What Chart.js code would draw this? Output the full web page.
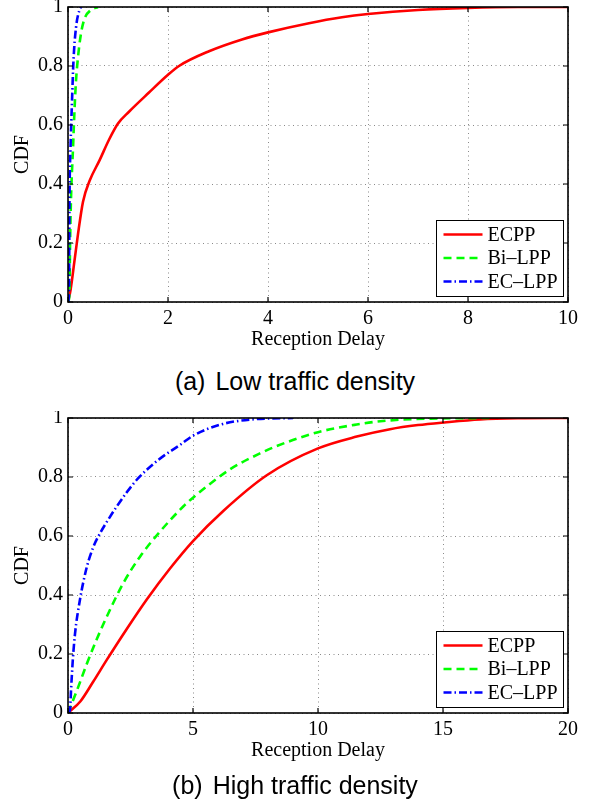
<!DOCTYPE html>
<html>
<head>
<meta charset="utf-8">
<title>Reception Delay CDF</title>
<script src="https://cdn.jsdelivr.net/npm/chart.js@4.4.1/dist/chart.umd.min.js"></script>
<style>
  html, body { margin: 0; padding: 0; background: #fff; }
  body { position: relative; width: 590px; height: 802px; overflow: hidden; }
  canvas { position: absolute; left: 0; }
  .caption { position: absolute; left: 0; width: 590px; text-align: center; color: #000;
             font-family: "Liberation Sans", Arial, Helvetica, sans-serif; font-size: 25px; line-height: 30px; }
  .gap { display: inline-block; width: 10px; }
</style>
</head>
<body>

<canvas id="lowChart" width="590" height="360" style="top:0"></canvas>
<div class="caption" style="top:366px">(a)<span class="gap"></span>Low traffic density</div>

<canvas id="highChart" width="590" height="360" style="top:411px"></canvas>
<div class="caption" style="top:770px">(b)<span class="gap"></span>High traffic density</div>

<script>
const seriesNames = ["ECPP", "Bi–LPP", "EC–LPP"];
const cdfTicks = [0, 0.2, 0.4, 0.6, 0.8, 1];

// (a) low traffic density
const lowTicksX = [0, 2, 4, 6, 8, 10];
const lowEcppX = [0, 0.05, 0.13, 0.2, 0.3, 0.43, 0.63, 0.82, 1.0, 1.22, 1.62, 2.0, 2.22, 2.82, 3.48, 4.0, 4.82, 5.48, 6.0, 7.0, 8.0, 9.0, 10];
const lowEcppY = [0, 0.04, 0.14, 0.23, 0.34, 0.41, 0.48, 0.55, 0.605, 0.645, 0.71, 0.77, 0.80, 0.85, 0.89, 0.914, 0.945, 0.965, 0.976, 0.99, 0.997, 1, 1];
const lowBiX = [0, 0.03, 0.04, 0.06, 0.1, 0.13, 0.16, 0.2, 0.26, 0.33, 0.46, 0.6];
const lowBiY = [0, 0.03, 0.18, 0.35, 0.52, 0.65, 0.75, 0.83, 0.91, 0.96, 0.99, 1];
const lowEcX = [0, 0.02, 0.03, 0.05, 0.08, 0.11, 0.16, 0.23, 0.26];
const lowEcY = [0, 0.03, 0.35, 0.52, 0.68, 0.82, 0.93, 0.99, 1];

// (b) high traffic density
const highTicksX = [0, 5, 10, 15, 20];
const highEcppX = [0, 0.5, 1.0, 1.55, 2.35, 3.15, 4.08, 5.0, 6.21, 7.95, 10.0, 11.55, 12.88, 14.0, 15.05, 16.48, 18, 20];
const highEcppY = [0, 0.04, 0.105, 0.18, 0.285, 0.385, 0.49, 0.583, 0.685, 0.806, 0.897, 0.937, 0.962, 0.976, 0.985, 0.995, 0.999, 1];
const highBiX = [0, 0.35, 0.75, 1.15, 1.68, 2.21, 2.88, 3.68, 4.61, 5.0, 5.55, 6.48, 7.68, 8.35, 10.0, 11.55, 12.6, 14.5, 16.9];
const highBiY = [0, 0.075, 0.166, 0.25, 0.35, 0.44, 0.53, 0.615, 0.70, 0.73, 0.768, 0.826, 0.88, 0.905, 0.952, 0.978, 0.99, 0.998, 1];
const highEcX = [0, 0.08, 0.12, 0.19, 0.28, 0.48, 0.75, 1.01, 1.3, 1.68, 1.95, 2.35, 2.8, 3.6, 4.5, 5.0, 6.2, 7.5, 9.0];
const highEcY = [0, 0.01, 0.075, 0.177, 0.268, 0.385, 0.494, 0.562, 0.612, 0.665, 0.70, 0.748, 0.795, 0.857, 0.91, 0.94, 0.98, 0.996, 1];

const serif = '"Liberation Serif", "Times New Roman", Times, serif';

const lineStyles = [
    { borderColor: "#ff0000", borderDash: [], borderWidth: 2.6 },
    { borderColor: "#00ff00", borderDash: [8, 5], borderWidth: 2.6 },
    { borderColor: "#0000ff", borderDash: [8, 3, 1.5, 3], borderWidth: 2.6 }
];

function points(xs, ys) {
    return xs.map((x, i) => ({ x: x, y: ys[i] }));
}

// matlab style box: frame, inward ticks on all sides, legend in the lower right
const framePlugin = {
    id: "frame",
    afterDraw(chart) {
        const ctx = chart.ctx;
        const a = chart.chartArea;
        const sx = chart.scales.x;
        const sy = chart.scales.y;

        ctx.save();
        ctx.strokeStyle = "#000";
        ctx.lineWidth = 1.2;
        ctx.beginPath();
        sx.ticks.forEach((t) => {
            const px = sx.getPixelForValue(t.value);
            ctx.moveTo(px, a.bottom); ctx.lineTo(px, a.bottom - 5);
            ctx.moveTo(px, a.top); ctx.lineTo(px, a.top + 5);
        });
        sy.ticks.forEach((t) => {
            const py = sy.getPixelForValue(t.value);
            ctx.moveTo(a.left, py); ctx.lineTo(a.left + 5, py);
            ctx.moveTo(a.right, py); ctx.lineTo(a.right - 5, py);
        });
        ctx.stroke();

        ctx.lineWidth = 1.6;
        ctx.strokeRect(a.left, a.top, a.right - a.left, a.bottom - a.top);

        // legend
        const w = 127, h = 76;
        const bx = Math.round(a.right - 5 - w) + 0.5;
        const by = Math.round(a.bottom - 6 - h) + 0.5;
        ctx.fillStyle = "#fff";
        ctx.fillRect(bx, by, w, h);
        ctx.lineWidth = 1;
        ctx.strokeRect(bx, by, w, h);

        ctx.font = "20px " + serif;
        ctx.textBaseline = "middle";
        chart.data.datasets.forEach((ds, i) => {
            const y = by + 14 + i * 23.5;
            ctx.strokeStyle = ds.borderColor;
            ctx.lineWidth = ds.borderWidth;
            ctx.setLineDash(ds.borderDash);
            ctx.beginPath();
            ctx.moveTo(bx + 7, y);
            ctx.lineTo(bx + 46, y);
            ctx.stroke();
            ctx.setLineDash([]);
            ctx.fillStyle = "#000";
            ctx.fillText(ds.label, bx + 51, y + 1);
        });
        ctx.restore();
    }
};

function makeChart(id, ticksX, maxX, series) {
    const datasets = series.map((s, i) => Object.assign({
        label: seriesNames[i],
        data: points(s[0], s[1]),
        order: 3 - i,
        pointRadius: 0,
        fill: false,
        cubicInterpolationMode: "monotone"
    }, lineStyles[i]));

    return new Chart(document.getElementById(id), {
        type: "line",
        data: { datasets: datasets },
        options: {
            responsive: false,
            animation: false,
            events: [],
            layout: { padding: { left: 0, right: 22, top: 7, bottom: 0 } },
            plugins: {
                legend: { display: false },
                tooltip: { enabled: false }
            },
            scales: {
                x: {
                    type: "linear",
                    min: 0,
                    max: maxX,
                    afterBuildTicks: (s) => { s.ticks = ticksX.map((v) => ({ value: v })); },
                    afterFit: (s) => { s.height = 58; s.paddingLeft = 0; s.paddingRight = 0; },
                    grid: { color: "#8a8a8a", lineWidth: 1, drawTicks: false },
                    border: { display: false, dash: [1, 3.5] },
                    ticks: {
                        color: "#000", padding: 5, maxRotation: 0,
                        font: { family: serif, size: 20 },
                        callback: (v) => String(v)
                    },
                    title: {
                        display: true,
                        text: "Reception Delay",
                        color: "#000",
                        font: { family: serif, size: 20 },
                        padding: { top: 0, bottom: 8 }
                    }
                },
                y: {
                    type: "linear",
                    min: 0,
                    max: 1,
                    afterBuildTicks: (s) => { s.ticks = cdfTicks.map((v) => ({ value: v })); },
                    afterFit: (s) => { s.width = 68; s.paddingTop = 0; s.paddingBottom = 0; },
                    grid: { color: "#8a8a8a", lineWidth: 1, drawTicks: false },
                    border: { display: false, dash: [1, 3.5] },
                    ticks: {
                        color: "#000", padding: 5,
                        font: { family: serif, size: 20 },
                        callback: (v) => String(v)
                    },
                    title: {
                        display: true,
                        text: "CDF",
                        color: "#000",
                        font: { family: serif, size: 20 },
                        padding: { top: 11, bottom: 0 }
                    }
                }
            }
        },
        plugins: [framePlugin]
    });
}

makeChart("lowChart", lowTicksX, 10, [[lowEcppX, lowEcppY], [lowBiX, lowBiY], [lowEcX, lowEcY]]);
makeChart("highChart", highTicksX, 20, [[highEcppX, highEcppY], [highBiX, highBiY], [highEcX, highEcY]]);
</script>
</body>
</html>
